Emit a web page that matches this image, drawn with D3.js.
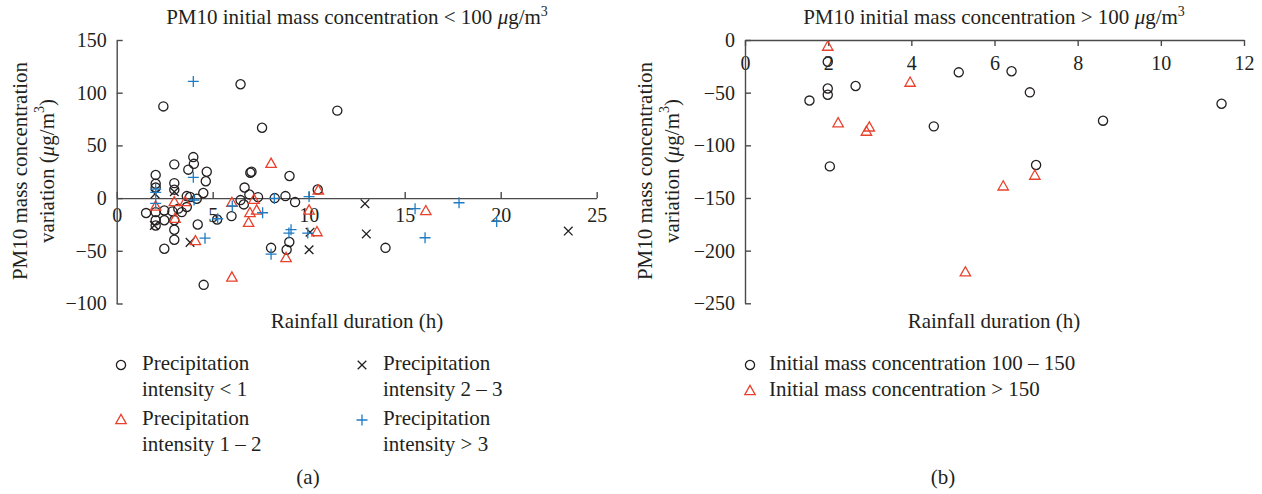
<!DOCTYPE html>
<html>
<head>
<meta charset="utf-8">
<script src="https://cdn.jsdelivr.net/npm/d3@7"></script>
<style>
  body { margin: 0; background: #fff; }
  text { font-family: "Liberation Serif", "DejaVu Serif", serif; fill: #231f20; }
</style>
</head>
<body>
<script>
// ---- data (a): PM10 initial < 100 ----
const intensityBelow1 = [
  [2.43, 87], [6.45, 108], [7.57, 66.8], [11.49, 83], [3.99, 38.9], [4.02, 32.5],
  [3.73, 27], [3.0, 32], [4.69, 25], [4.64, 16], [2.03, 22], [2.03, 13.6],
  [2.03, 10], [3.0, 14.2], [3.0, 8], [6.96, 24], [7.02, 25], [9.0, 21],
  [6.66, 10], [6.91, 3.5], [4.51, 4.8], [7.36, 0.9], [8.23, 0], [8.79, 1.9],
  [9.29, -3.8], [6.45, -1.9], [6.62, -6], [10.47, 8.2], [3.82, 1], [4.17, -0.6],
  [3.65, -8.5], [3.39, -13.3], [3.21, -10], [1.53, -14.2], [2.03, -13.3], [2.48, -11.7],
  [2.48, -21], [2.03, -21], [2.03, -26], [3.0, -21], [3.0, -30], [3.0, -39.5],
  [4.22, -25], [5.23, -20.3], [5.98, -17.1], [2.48, -48], [4.53, -82.3], [8.04, -47.2],
  [8.99, -41.7], [8.85, -49], [14.0, -47.2], [2.9, -12.6], [3.65, 1.9]
];
const intensity1to2 = [
  [8.04, 32.6], [6.0, -4.5], [7.15, -1.5], [3.0, -3.8], [3.56, -3.8], [2.03, -8],
  [3.04, -19.6], [6.94, -14.2], [6.87, -23.5], [7.29, -11.7], [4.1, -40.8], [6.0, -75.3],
  [8.82, -56.8], [10.02, -11.7], [10.43, -32.3], [10.5, 7.3], [16.1, -12.3]
];
const intensity2to3 = [
  [2.0, 4], [1.96, -26], [3.0, 6], [3.82, -42], [10.02, -49], [10.07, -32.3],
  [12.93, -5.3], [13.0, -34], [23.52, -31.3]
];
const intensityAbove3 = [
  [3.99, 110.7], [3.99, 19.7], [4.03, -1.8], [2.03, 8.5], [2.03, 5.5], [2.03, -5],
  [4.6, -38], [5.26, -19.6], [6.02, -7.5], [7.6, -13.9], [8.21, -0.3], [8.04, -53.2],
  [9.08, -30], [8.97, -33.2], [10.02, 1.4], [9.95, -33.2], [15.54, -10], [16.06, -37.6],
  [17.83, -4.4], [19.79, -22.1]
];

// ---- data (b): PM10 initial > 100 ----
const initial100to150 = [
  [1.55, -57.5], [1.99, -20.6], [1.99, -46], [1.99, -52], [2.04, -120], [2.66, -43.7],
  [4.54, -82], [5.14, -30.7], [6.41, -29.7], [6.85, -49.7], [7.0, -118.7], [8.61, -76.6],
  [11.46, -60.5]
];
const initialAbove150 = [
  [1.99, -6.3], [2.24, -79], [2.99, -83], [2.92, -87], [3.97, -40.5], [5.3, -220.6],
  [6.21, -139], [6.97, -128.8]
];

const xTicksA = [0, 5, 10, 15, 20, 25];
const yTicksA = [-100, -50, 0, 50, 100, 150];
const xTicksB = [0, 2, 4, 6, 8, 10, 12];
const yTicksB = [-250, -200, -150, -100, -50, 0];

const RED = "#e8412c", BLUE = "#1f7cc4", DARK = "#231f20", AXIS = "#4a4a4a";

const W = 1262, H = 494;
const svg = d3.select("body").append("svg").attr("width", W).attr("height", H);

// marker shapes
const markers = {
  circle: { d: d3.symbol(d3.symbolCircle, 66)(), color: DARK },
  triangle: { d: "M0,-5.6L5.2,3.6L-5.2,3.6Z", color: RED },
  times: { d: "M-4.3,-4.3L4.3,4.3M-4.3,4.3L4.3,-4.3", color: DARK },
  plus: { d: "M-5.5,0H5.5M0,-5.5V5.5", color: BLUE }
};

function drawPoints(g, data, x, y, kind) {
  const m = markers[kind];
  g.append("g").selectAll("path").data(data).enter().append("path")
    .attr("transform", d => "translate(" + x(d[0]) + "," + y(d[1]) + ")")
    .attr("d", m.d)
    .attr("fill", "none")
    .attr("stroke", m.color)
    .attr("stroke-width", 1.3);
}

function styleAxis(g) {
  g.selectAll("path, line").attr("stroke", AXIS).attr("stroke-width", 1.4);
  g.selectAll("text").style("font-size", "20px");
}

// title text with μg/m³
function unitTitle(t, prefix, suffix) {
  t.append("tspan").text(prefix);
  t.append("tspan").style("font-style", "italic").text("\u00a0\u03bc");
  t.append("tspan").text("g/m");
  t.append("tspan").attr("dy", -8).style("font-size", "14px").text("3");
  if (suffix) t.append("tspan").attr("dy", 8).text(suffix);
}

function yTitle(cx, cy) {
  svg.append("text").attr("transform", "translate(" + (cx) + "," + cy + ") rotate(-90)")
    .attr("text-anchor", "middle").attr("dominant-baseline", "central")
    .style("font-size", "21px").text("PM10 mass concentration");
  const t = svg.append("text").attr("transform", "translate(" + (cx + 27) + "," + cy + ") rotate(-90)")
    .attr("text-anchor", "middle").attr("dominant-baseline", "central")
    .style("font-size", "21px");
  t.append("tspan").text("variation (");
  t.append("tspan").style("font-style", "italic").text("\u03bc");
  t.append("tspan").text("g/m");
  t.append("tspan").attr("dy", -8).style("font-size", "14px").text("3");
  t.append("tspan").attr("dy", 8).text(")");
}

// ================= chart (a) =================
const xA = d3.scaleLinear().domain([0, 25]).range([116.7, 596.7]);
const yA = d3.scaleLinear().domain([-100, 150]).range([303.5, 40]);

const gA = svg.append("g");
gA.append("g").attr("transform", "translate(0," + yA(0) + ")")
  .call(d3.axisBottom(xA).tickValues(xTicksA).tickSize(-6).tickSizeOuter(0).tickPadding(10))
  .call(styleAxis);
gA.append("g").attr("transform", "translate(" + xA(0) + ",0)")
  .call(d3.axisLeft(yA).tickValues(yTicksA).tickSize(-6).tickSizeOuter(0).tickPadding(10))
  .call(styleAxis);

drawPoints(gA, intensityBelow1, xA, yA, "circle");
drawPoints(gA, intensity2to3, xA, yA, "times");
drawPoints(gA, intensity1to2, xA, yA, "triangle");
drawPoints(gA, intensityAbove3, xA, yA, "plus");

unitTitle(svg.append("text").attr("x", 357).attr("y", 24).attr("text-anchor", "middle")
  .style("font-size", "21px"), "PM10 initial mass concentration < 100");
svg.append("text").attr("x", 357).attr("y", 328).attr("text-anchor", "middle")
  .style("font-size", "21px").text("Rainfall duration (h)");
yTitle(20, 171);

// legend (a)
const legendA = [
  { kind: "circle", x: 121, y: 363, l1: "Precipitation", l2: "intensity < 1" },
  { kind: "times", x: 362, y: 363, l1: "Precipitation", l2: "intensity 2 \u2013 3" },
  { kind: "triangle", x: 121, y: 418, l1: "Precipitation", l2: "intensity 1 \u2013 2" },
  { kind: "plus", x: 362, y: 418, l1: "Precipitation", l2: "intensity > 3" }
];
legendA.forEach(d => {
  svg.append("path").attr("transform", "translate(" + d.x + "," + (d.y + 2) + ")")
    .attr("d", markers[d.kind].d).attr("fill", "none")
    .attr("stroke", markers[d.kind].color).attr("stroke-width", 1.3);
  const t = svg.append("text").attr("x", d.x + 21).attr("y", d.y + 7).style("font-size", "21px");
  t.append("tspan").text(d.l1);
  t.append("tspan").attr("x", d.x + 21).attr("dy", 26).text(d.l2);
});
svg.append("text").attr("x", 308).attr("y", 484).attr("text-anchor", "middle")
  .style("font-size", "21px").text("(a)");

// ================= chart (b) =================
const xB = d3.scaleLinear().domain([0, 12]).range([745, 1244]);
const yB = d3.scaleLinear().domain([-250, 0]).range([303.3, 40]);

const gB = svg.append("g");
gB.append("g").attr("transform", "translate(0," + yB(0) + ")")
  .call(d3.axisBottom(xB).tickValues(xTicksB).tickSize(6).tickSizeOuter(0).tickPadding(10))
  .call(styleAxis);
gB.append("g").attr("transform", "translate(" + xB(0) + ",0)")
  .call(d3.axisLeft(yB).tickValues(yTicksB).tickSize(-6).tickSizeOuter(0).tickPadding(10))
  .call(styleAxis);

drawPoints(gB, initial100to150, xB, yB, "circle");
drawPoints(gB, initialAbove150, xB, yB, "triangle");

unitTitle(svg.append("text").attr("x", 994).attr("y", 24).attr("text-anchor", "middle")
  .style("font-size", "21px"), "PM10 initial mass concentration > 100");
svg.append("text").attr("x", 994).attr("y", 328).attr("text-anchor", "middle")
  .style("font-size", "21px").text("Rainfall duration (h)");
yTitle(645, 171);

const legendB = [
  { kind: "circle", x: 750, y: 363, label: "Initial mass concentration 100 \u2013 150" },
  { kind: "triangle", x: 750, y: 389, label: "Initial mass concentration > 150" }
];
legendB.forEach(d => {
  svg.append("path").attr("transform", "translate(" + d.x + "," + (d.y + 2) + ")")
    .attr("d", markers[d.kind].d).attr("fill", "none")
    .attr("stroke", markers[d.kind].color).attr("stroke-width", 1.3);
  svg.append("text").attr("x", d.x + 19).attr("y", d.y + 7).style("font-size", "21px").text(d.label);
});
svg.append("text").attr("x", 943).attr("y", 484).attr("text-anchor", "middle")
  .style("font-size", "21px").text("(b)");
</script>
</body>
</html>
